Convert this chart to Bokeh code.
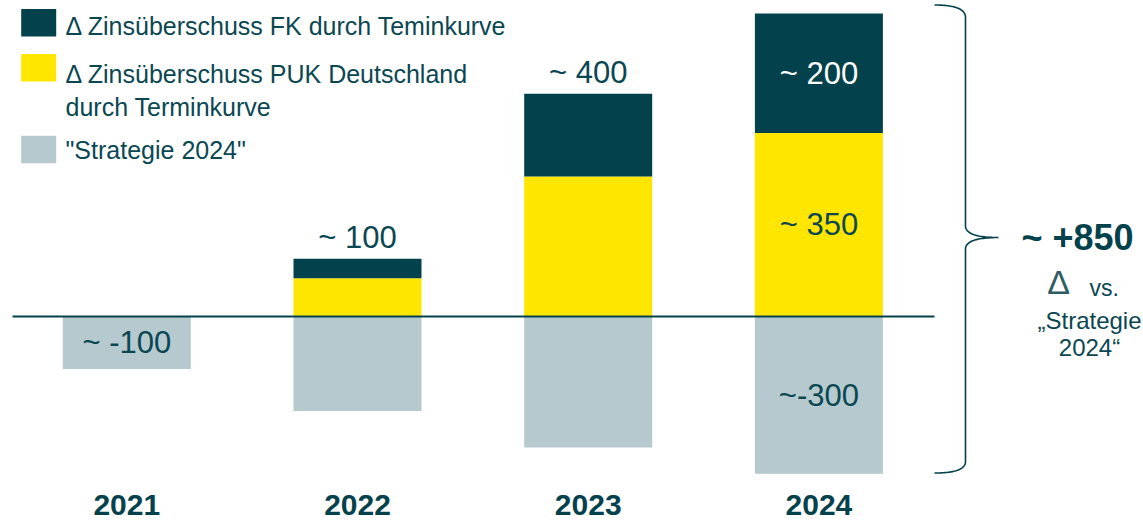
import numpy as np
from bokeh.plotting import figure
from bokeh.models import Range1d
from bokeh.core.properties import value
from bokeh.embed import file_html
from bokeh.resources import INLINE

# ---------------- data ----------------
years = ["2021", "2022", "2023", "2024"]
strategie = [-100, -180, -250, -300]      # "Strategie 2024" (grey, negative)
puk = [0, 73, 267, 350]                   # Δ Zinsüberschuss PUK Deutschland (yellow)
fk = [0, 37, 158, 228]                    # Δ Zinsüberschuss FK (dark)

strat_labels = ["~ -100", "", "", "~-300"]
puk_labels = ["", "", "", "~ 350"]
fk_labels = ["", "", "", "~ 200"]
total_labels = ["", "~ 100", "~ 400", ""]

legend_labels = ["Δ Zinsüberschuss FK durch Teminkurve",
                 "Δ Zinsüberschuss PUK Deutschland\ndurch Terminkurve",
                 "\"Strategie 2024\""]
summary_value = "~ +850"
summary_lines = ["„Strategie", "2024“"]

# ---------------- styling ----------------
DARK = "#03424C"
YELLOW = "#FFE600"
GREY = "#B5C9CF"
TXT = "#0A4752"
FONT = value("Liberation Sans")

W, H = 1143, 520
PPU = 0.5244          # px per unit
BASE = 316.0          # page px of zero line
X0, STEP = 126.3, 230.7

def px2x(px):
    return (px - X0) / STEP

def px2y(py):
    return (BASE - py) / PPU

def units(px):
    return px / PPU

p = figure(width=W, height=H, output_backend="svg", toolbar_location=None,
           x_range=Range1d(px2x(0), px2x(W)), y_range=Range1d(px2y(H), px2y(0)),
           x_axis_location=None, y_axis_location=None, min_border=0,
           outline_line_color=None, background_fill_color="white",
           border_fill_color="white")
p.grid.visible = False

idx = list(range(len(years)))
bw = 128 / STEP

stack_top = [a + b for a, b in zip(puk, fk)]
p.vbar(x=idx, width=bw, bottom=0, top=strategie, fill_color=GREY, line_color=None)
p.vbar(x=idx, width=bw, bottom=0, top=puk, fill_color=YELLOW, line_color=None)
p.vbar(x=idx, width=bw, bottom=puk, top=stack_top, fill_color=DARK, line_color=None)

# zero line
p.line(x=[px2x(12), px2x(934)], y=[0, 0], line_color=DARK, line_width=2)

def txt(xs, ys, texts, color, size, style="normal", align="center", baseline="middle"):
    p.text(x=xs, y=ys, text=texts, text_color=color, text_font=FONT,
           text_font_size=size, text_font_style=style, text_align=align,
           text_baseline=baseline)

# bar labels
txt(idx, [s / 2 for s in strategie], strat_labels, TXT, "31px")
txt(idx, [y / 2 for y in puk], puk_labels, TXT, "31px")
txt(idx, [a + b / 2 for a, b in zip(puk, fk)], fk_labels, "white", "31px")
txt(idx, [t + units(21) for t in stack_top], total_labels, TXT, "31px")

# year labels
txt(idx, [px2y(504)] * len(years), years, DARK, "30px", style="bold")

# legend
sw_colors = [DARK, YELLOW, GREY]
sw_tops = [8.5, 53.5, 135.2]
for c, t in zip(sw_colors, sw_tops):
    p.quad(left=px2x(20.7), right=px2x(55.7), top=px2y(t), bottom=px2y(t + 27.5),
           fill_color=c, line_color=None)
line_rows = [[25.5], [73, 106], [149]]
for lab, rows in zip(legend_labels, line_rows):
    for line, r in zip(lab.split("\n"), rows):
        txt([px2x(65)], [px2y(r)], [line], TXT, "25px", align="left")

# brace
def qbez(p0, c, p1, n=30):
    t = np.linspace(0, 1, n)
    xs = (1 - t) ** 2 * p0[0] + 2 * (1 - t) * t * c[0] + t ** 2 * p1[0]
    ys = (1 - t) ** 2 * p0[1] + 2 * (1 - t) * t * c[1] + t ** 2 * p1[1]
    return list(xs), list(ys)

bx, by = [], []
for seg in [((934, 4.5), (965, 4.5), (965, 17)),
            ((965, 17), (965, 120), (965, 226)),
            ((965, 226), (966, 237), (998, 237)),
            ((998, 237), (966, 237), (965, 248)),
            ((965, 248), (965, 350), (965, 461)),
            ((965, 461), (965, 472.5), (934, 472.5))]:
    xs, ys = qbez(*seg)
    bx += xs
    by += ys
p.line(x=[px2x(v) for v in bx], y=[px2y(v) for v in by], line_color=DARK, line_width=1.6)

# summary annotation
txt([px2x(1077)], [px2y(237)], [summary_value], DARK, "36px", style="bold")
txt([px2x(1058)], [px2y(281)], ["Δ"], "#2E5D66", "34px")
txt([px2x(1089)], [px2y(287)], ["vs."], TXT, "23px", align="left")
txt([px2x(1089)], [px2y(320)], [summary_lines[0]], TXT, "24px")
txt([px2x(1089)], [px2y(347)], [summary_lines[1]], TXT, "24px")

open("out.html", "w").write(file_html(p, INLINE))
